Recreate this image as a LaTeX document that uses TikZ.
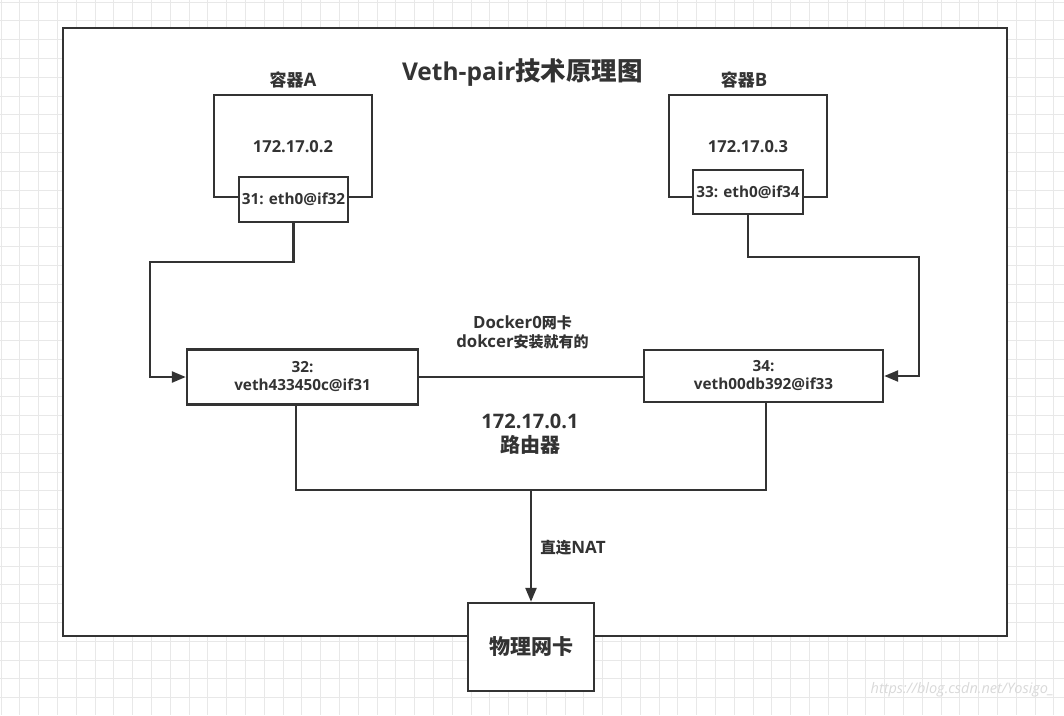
\documentclass[tikz,border=0pt]{standalone}
\usepackage{fontspec}
\setmainfont{Noto Sans CJK SC}
\newfontfamily\lat{Open Sans}
\newcommand\latsz[2]{{\lat\fontsize{#1}{#1}\selectfont #2}}
\usetikzlibrary{arrows.meta}
\definecolor{ink}{HTML}{333333}
\definecolor{gridc}{HTML}{E8E8E8}
\tikzset{
  box/.style={draw=ink, line width=2.4pt, fill=white, inner sep=0pt, align=center, text=ink, font=\bfseries},
  wire/.style={draw=ink, line width=2.4pt},
  arr/.style={wire, -{Triangle[length=14pt,width=11pt]}},
  lbl/.style={text=ink, font=\bfseries, align=center, inner sep=0pt}
}
\begin{document}
\begin{tikzpicture}[x=1pt,y=-1pt]
\useasboundingbox (0,0) rectangle (1064,715);
\fill[white] (0,0) rectangle (1064,715);
% grid
\foreach \i in {0,...,57} {\draw[gridc, line width=0.8pt] ({1+\i*18.8},0) -- ({1+\i*18.8},715);}
\foreach \i in {0,...,38} {\draw[gridc, line width=0.8pt] (0,{2+\i*18.8}) -- (1064,{2+\i*18.8});}
% frame
\node[box, minimum width=944pt, minimum height=608pt] (frame) at (535,332) {};
\node[lbl, font=\bfseries\fontsize{25.5}{28}\selectfont] (title) at (522.5,73) {\latsz{24.5}{Veth-pair}技术原理图};
% container A
\node[lbl, font=\bfseries\fontsize{17}{20}\selectfont] (labA) at (293,80) {容器\latsz{18.5}{A}};
\node[box, minimum width=158pt, minimum height=102pt] (boxA) at (293,146) {};
\node[lbl, font=\bfseries\lat\fontsize{16.5}{19}\selectfont] (ipA) at (293,147) {172.17.0.2};
\node[box, minimum width=109pt, minimum height=45pt, font=\bfseries\lat\fontsize{15.3}{18}\selectfont] (ethA) at (293.5,199.5) {31: eth0@if32};
% container B
\node[lbl, font=\bfseries\fontsize{17}{20}\selectfont] (labB) at (744,80) {容器\latsz{18.5}{B}};
\node[box, minimum width=158pt, minimum height=102pt] (boxB) at (748,146) {};
\node[lbl, font=\bfseries\lat\fontsize{16.5}{19}\selectfont] (ipB) at (748,147) {172.17.0.3};
\node[box, minimum width=110pt, minimum height=44pt, font=\bfseries\lat\fontsize{15.3}{18}\selectfont] (ethB) at (748,192) {33: eth0@if34};
% veth boxes
\node[box, minimum width=231pt, minimum height=55pt, font=\bfseries\lat\fontsize{15.3}{18}\selectfont] (vethA) at (302.5,377) {32:\\veth433450c@if31};
\node[box, minimum width=239pt, minimum height=52pt, font=\bfseries\lat\fontsize{15.3}{18}\selectfont] (vethB) at (763.5,376) {34:\\veth00db392@if33};
\node[lbl, font=\bfseries\fontsize{15}{19}\selectfont] (docker) at (522.5,332.5) {\latsz{16.8}{Docker0}网卡\\\latsz{16.8}{dokcer}安装就有的};
\node[lbl, font=\bfseries\fontsize{20}{24}\selectfont] (router) at (530,434) {\latsz{20}{172.17.0.1}\\路由器};
% physical
\node[box, minimum width=126pt, minimum height=88pt, font=\bfseries\fontsize{21}{24}\selectfont] (phys) at (531,647) {物理网卡};
\node[lbl, font=\bfseries\fontsize{15.5}{18}\selectfont] (nat) at (573,548) {直连\latsz{17}{NAT}};
% connectors
\coordinate (a1) at (150,262);
\coordinate (b1) at (919,257);
\coordinate (bl) at (296,490);
\coordinate (br) at (766,490);
\coordinate (mid) at (531,490);
\draw[arr] (ethA.south) |- (a1) |- (vethA.west);
\draw[arr] (ethB.south) |- (b1) |- (vethB.east);
\draw[wire] (vethA.east) -- (vethA.east -| vethB.west);
\draw[wire] (vethA.south -| bl) -- (bl) -- (br) -- (vethB.south -| br);
\draw[arr] (mid) -- (phys.north);
% watermark
\node[text=black!15, font=\lat\itshape\fontsize{14.5}{16}\selectfont, anchor=east, inner sep=0pt] (wm) at (1054,690) {https://blog.csdn.net/Yosigo\_};
\end{tikzpicture}
\end{document}
